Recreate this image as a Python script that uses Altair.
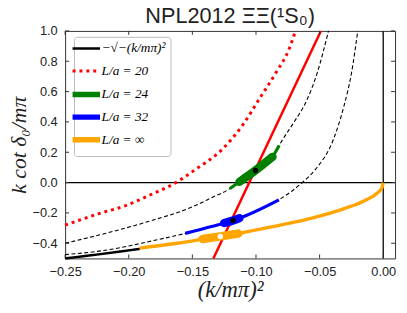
import altair as alt
import pandas as pd

# ---------------- data ----------------
x_ticks = [-0.25, -0.20, -0.15, -0.10, -0.05, 0.00]
y_ticks = [-0.4, -0.2, 0.0, 0.2, 0.4, 0.6, 0.8, 1.0]

legend_labels = ["−√−(k/mπ)²", "L/a = 20", "L/a = 24", "L/a = 32", "L/a = ∞"]
legend_colors = ["black", "red", "green", "blue", "orange"]

# -sqrt(-(k/m)^2) visible segment
neg_x = [-0.25, -0.22, -0.1914]
neg_y = [-0.50, -0.469, -0.437]

# L/a = 20 (red dotted)
l20_x = [-0.25, -0.224, -0.203, -0.182, -0.163, -0.148, -0.126, -0.110, -0.097, -0.084, -0.074, -0.069]
l20_y = [-0.28, -0.206, -0.153, -0.077, 0.0, 0.084, 0.224, 0.385, 0.557, 0.729, 0.88, 1.0]

# Luscher curves (black dashed)
dashA_x = [-0.25, -0.216, -0.182, -0.15, -0.135, -0.1205, -0.113, -0.1004, -0.087, -0.0818, -0.0793, -0.070, -0.0611, -0.052, -0.043]
dashA_y = [-0.40, -0.33, -0.25, -0.16, -0.10, -0.04, 0.005, 0.08, 0.17, 0.245, 0.28, 0.40, 0.525, 0.72, 1.0]
dashB_x = [-0.25, -0.216, -0.182, -0.1556, -0.135, -0.118, -0.1076, -0.082, -0.0637, -0.0534, -0.039, -0.031, -0.025, -0.020]
dashB_y = [-0.475, -0.443, -0.385, -0.335, -0.29, -0.25, -0.217, -0.114, 0.0, 0.086, 0.288, 0.50, 0.72, 1.0]

# L/a = 24 (green)
g_x = [-0.1205, -0.113, -0.1004, -0.087, -0.0818]
g_y = [-0.04, 0.005, 0.08, 0.17, 0.245]
g_thick_x = [-0.113, -0.1004, -0.087]
g_thick_y = [0.005, 0.08, 0.17]
g_dot = (-0.1004, 0.08)

# L/a = 32 (blue)
b_x = [-0.1556, -0.135, -0.118, -0.1076, -0.082]
b_y = [-0.335, -0.29, -0.25, -0.217, -0.114]
b_thick_x = [-0.125, -0.118, -0.113]
b_thick_y = [-0.2665, -0.25, -0.234]
b_dot = (-0.118, -0.25)

# L/a = inf (orange)
o_x = [-0.1914, -0.1663, -0.1463, -0.142, -0.128, -0.114, -0.1076, -0.0818, -0.056, -0.030, -0.0147, -0.0044, -0.001, 0.0]
o_y = [-0.432, -0.405, -0.379, -0.372, -0.355, -0.336, -0.325, -0.282, -0.234, -0.17, -0.12, -0.067, -0.035, 0.0]
o_thick_x = [-0.142, -0.128, -0.114]
o_thick_y = [-0.372, -0.355, -0.336]
o_dot = (-0.128, -0.355)

# red straight line
red_x = [-0.1335, -0.049]
red_y = [-0.5, 1.0]

W, H = 335, 231

# ---------------- build chart ----------------
def df(xs, ys, name=None):
    d = pd.DataFrame({"x": xs, "y": ys})
    if name is not None:
        d["s"] = name
    return d

X = alt.X("x:Q", scale=alt.Scale(domain=[-0.25, 0.0093], nice=False, zero=False),
          axis=alt.Axis(values=x_ticks, format=".2f", title="(k/mπ)²", labelPadding=7,
                        labelFlush=False, titlePadding=1))
Y = alt.Y("y:Q", scale=alt.Scale(domain=[-0.5, 1.0], nice=False, zero=False),
          axis=alt.Axis(values=y_ticks, format=".1f", title="k cot δ₀/mπ", labelPadding=8,
                        labelFlush=False, titlePadding=2, titleFontSize=22))

leg = alt.Legend(orient="none", legendX=9, legendY=6, title=None,
                 symbolType="M-3.1,0L3.1,0", symbolSize=81, gridAlign="all",
                 labelFont="Liberation Serif", labelFontStyle="italic", labelFontSize=13.5,
                 labelColor="black", padding=5, strokeColor="#bbbbbb", fillColor="white",
                 cornerRadius=3, rowPadding=0, labelOffset=8, labelLimit=200)

col = alt.Color("s:N", scale=alt.Scale(domain=legend_labels, range=legend_colors), legend=leg)
dash = alt.StrokeDash("s:N", scale=alt.Scale(domain=legend_labels,
                      range=[[1, 0], [3, 4], [1, 0], [1, 0], [1, 0]]), legend=leg)
sw = alt.StrokeWidth("s:N", scale=alt.Scale(type="ordinal", domain=legend_labels,
                     range=[2.5, 3, 5.5, 5.5, 5.5]), legend=leg)

zero_h = alt.Chart(pd.DataFrame({"y": [0.0]})).mark_rule(color="black", strokeWidth=1.3).encode(y=Y)
zero_v = alt.Chart(pd.DataFrame({"x": [0.0]})).mark_rule(color="black", strokeWidth=1.3).encode(x=X)

dashed = alt.Chart(pd.concat([df(dashA_x, dashA_y, "A"), df(dashB_x, dashB_y, "B")])).mark_line(
    color="black", strokeWidth=1.1, strokeDash=[4, 2.5], interpolate="monotone"
).encode(x=X, y=Y, detail="s:N")

thin = alt.layer(
    alt.Chart(df(g_x, g_y)).mark_line(color="green", strokeWidth=3.2, interpolate="monotone").encode(x=X, y=Y),
    alt.Chart(df(b_x, b_y)).mark_line(color="blue", strokeWidth=3.2, interpolate="monotone").encode(x=X, y=Y),
    alt.Chart(df(o_x, o_y)).mark_line(color="orange", strokeWidth=3.4, interpolate="monotone").encode(x=X, y=Y),
)

redline = alt.Chart(df(red_x, red_y)).mark_line(color="red", strokeWidth=2.5).encode(x=X, y=Y)

# wide error segments in the plot (no legend)
thick = alt.layer(
    alt.Chart(df(g_thick_x, g_thick_y)).mark_line(color="green", strokeWidth=8.5, strokeCap="round",
                                                  interpolate="monotone").encode(x=X, y=Y),
    alt.Chart(df(b_thick_x, b_thick_y)).mark_line(color="blue", strokeWidth=8.5, strokeCap="round",
                                                  interpolate="monotone").encode(x=X, y=Y),
    alt.Chart(df(o_thick_x, o_thick_y)).mark_line(color="orange", strokeWidth=8.5, strokeCap="round",
                                                   interpolate="monotone").encode(x=X, y=Y),
)

leg_a = alt.Chart(pd.concat([df(neg_x, neg_y, legend_labels[0]), df(l20_x, l20_y, legend_labels[1])])).mark_line(
    interpolate="monotone"
).encode(x=X, y=Y, color=col, strokeDash=dash, strokeWidth=sw)

leg_b = alt.Chart(pd.concat([df(g_thick_x, g_thick_y, legend_labels[2]),
                             df(b_thick_x, b_thick_y, legend_labels[3]),
                             df(o_thick_x, o_thick_y, legend_labels[4])])).mark_line(
    strokeCap="round", interpolate="monotone"
).encode(x=X, y=Y, color=col, strokeDash=dash, strokeWidth=sw)

dots = alt.Chart(pd.DataFrame({"x": [g_dot[0], b_dot[0], o_dot[0]],
                               "y": [g_dot[1], b_dot[1], o_dot[1]],
                               "c": ["black", "black", "white"]})).mark_circle(size=30, opacity=1).encode(
    x=X, y=Y, color=alt.Color("c:N", scale=None))

tx = pd.DataFrame({"x": x_ticks})
ty = pd.DataFrame({"y": y_ticks})
tick_style = dict(color="#333", strokeWidth=1)
ticks = alt.layer(
    alt.Chart(tx).mark_rule(**tick_style).encode(x=X, y=alt.value(0), y2=alt.value(4)),
    alt.Chart(tx).mark_rule(**tick_style).encode(x=X, y=alt.value(H - 4), y2=alt.value(H)),
    alt.Chart(ty).mark_rule(**tick_style).encode(y=Y, x=alt.value(0), x2=alt.value(4)),
    alt.Chart(ty).mark_rule(**tick_style).encode(y=Y, x=alt.value(W - 4), x2=alt.value(W)),
)

chart = alt.layer(
    zero_h, zero_v, dashed, thin, redline, thick, leg_a, leg_b, dots, ticks
).properties(
    width=W, height=H,
    autosize=alt.AutoSizeParams(type="none"),
    padding={"left": 58, "top": 21, "right": 4, "bottom": 45},
    title=alt.TitleParams("NPL2012 ΞΞ(¹S₀)", font="Liberation Sans", fontSize=22,
                          fontWeight="normal", color="#222", anchor="middle", offset=-3),
).configure_view(
    stroke="#333", strokeWidth=1
).configure_axis(
    grid=False, domain=False, ticks=False,
    labelFont="Liberation Sans", labelFontSize=13, labelColor="#222",
    titleFont="Liberation Serif", titleFontStyle="italic", titleFontWeight="normal",
    titleFontSize=23, titleColor="#222"
)

chart.save("out.html", embed_options={"renderer": "svg", "actions": False})
